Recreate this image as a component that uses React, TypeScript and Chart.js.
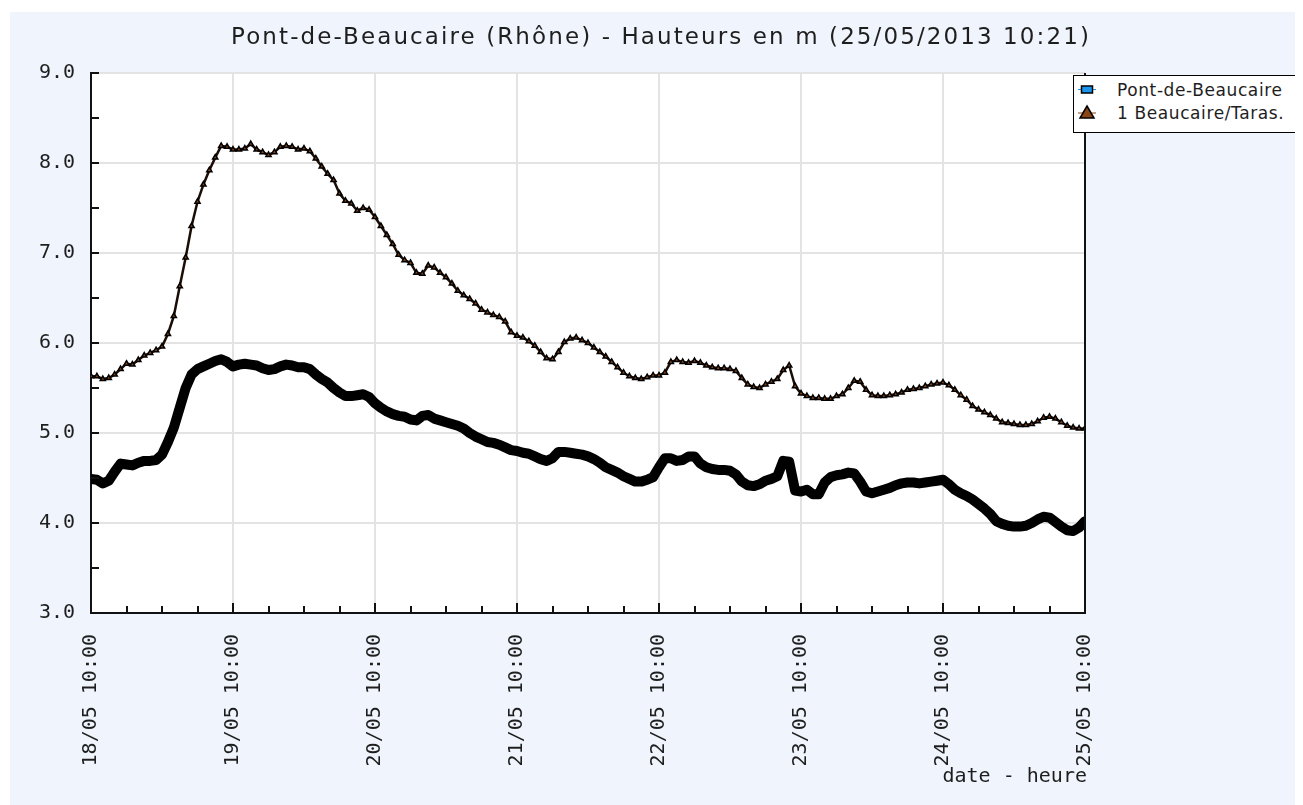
import React, { useEffect, useRef } from 'react';
import { Chart, registerables } from 'chart.js';

Chart.register(...registerables);

const TITLE = 'Pont-de-Beaucaire (Rhône) - Hauteurs en m (25/05/2013 10:21)';
const X_AXIS_TITLE = 'date - heure';
const SERIES_NAMES = ['Pont-de-Beaucaire', '1 Beaucaire/Taras.'];

// hours since 18/05 10:00
const DAY_LABELS = ['18/05 10:00', '19/05 10:00', '20/05 10:00', '21/05 10:00', '22/05 10:00', '23/05 10:00', '24/05 10:00', '25/05 10:00'];
const HOUR_TICKS = [0, 6, 12, 18, 24, 30, 36, 42, 48, 54, 60, 66, 72, 78, 84, 90, 96, 102, 108, 114, 120, 126, 132, 138, 144, 150, 156, 162, 168];
const Y_TICKS = [3, 3.5, 4, 4.5, 5, 5.5, 6, 6.5, 7, 7.5, 8, 8.5, 9];

// hourly readings, 18/05 10:00 -> 25/05 10:00
const PONT = [
  4.49, 4.48, 4.44, 4.47, 4.57, 4.66, 4.65, 4.64, 4.67, 4.69, 4.69, 4.70,
  4.76, 4.90, 5.06, 5.28, 5.50, 5.65, 5.71, 5.74, 5.77, 5.80, 5.82, 5.79,
  5.74, 5.76, 5.77, 5.76, 5.75, 5.72, 5.70, 5.71, 5.74, 5.76, 5.75, 5.73,
  5.73, 5.71, 5.65, 5.60, 5.56, 5.50, 5.45, 5.41, 5.41, 5.42, 5.43, 5.40,
  5.33, 5.28, 5.24, 5.21, 5.19, 5.18, 5.15, 5.14, 5.19, 5.20, 5.16, 5.14,
  5.12, 5.10, 5.08, 5.05, 5.00, 4.96, 4.93, 4.90, 4.89, 4.87, 4.84, 4.81,
  4.80, 4.78, 4.77, 4.74, 4.71, 4.69, 4.72, 4.79, 4.79, 4.78, 4.77, 4.76,
  4.74, 4.71, 4.67, 4.62, 4.59, 4.56, 4.52, 4.49, 4.46, 4.46, 4.48, 4.51,
  4.62, 4.72, 4.72, 4.69, 4.70, 4.74, 4.74, 4.66, 4.62, 4.60, 4.59, 4.59,
  4.58, 4.54, 4.46, 4.42, 4.41, 4.43, 4.47, 4.49, 4.52, 4.69, 4.68, 4.36,
  4.35, 4.37, 4.32, 4.32, 4.45, 4.51, 4.53, 4.54, 4.56, 4.55, 4.46, 4.35,
  4.33, 4.35, 4.37, 4.39, 4.42, 4.44, 4.45, 4.45, 4.44, 4.45, 4.46, 4.47,
  4.48, 4.43, 4.37, 4.33, 4.30, 4.26, 4.21, 4.16, 4.10, 4.02, 3.99, 3.97,
  3.96, 3.96, 3.97, 4.00, 4.04, 4.07, 4.06, 4.01, 3.96, 3.92, 3.91, 3.95,
  4.02,
];

const TARAS = [
  5.63, 5.63, 5.60, 5.61, 5.65, 5.71, 5.77, 5.76, 5.81, 5.86, 5.89, 5.92,
  5.96, 6.10, 6.30, 6.63, 6.95, 7.30, 7.57, 7.76, 7.92, 8.06, 8.19, 8.18,
  8.15, 8.15, 8.16, 8.21, 8.15, 8.12, 8.09, 8.12, 8.18, 8.19, 8.18, 8.15,
  8.16, 8.13, 8.05, 7.96, 7.88, 7.81, 7.66, 7.58, 7.55, 7.47, 7.50, 7.48,
  7.40, 7.30, 7.20, 7.10, 6.98, 6.92, 6.89, 6.78, 6.77, 6.86, 6.84, 6.78,
  6.73, 6.66, 6.58, 6.53, 6.49, 6.44, 6.37, 6.34, 6.31, 6.29, 6.24, 6.12,
  6.08, 6.06, 6.02, 5.97, 5.90, 5.83, 5.82, 5.90, 6.01, 6.05, 6.06, 6.03,
  6.00, 5.95, 5.90, 5.85, 5.79, 5.73, 5.67, 5.63, 5.61, 5.60, 5.62, 5.64,
  5.64, 5.67, 5.79, 5.81, 5.79, 5.78, 5.80, 5.78, 5.75, 5.73, 5.72, 5.72,
  5.71, 5.69, 5.61, 5.54, 5.51, 5.50, 5.54, 5.57, 5.60, 5.70, 5.75, 5.52,
  5.44, 5.41, 5.39, 5.39, 5.38, 5.38, 5.41, 5.43, 5.50, 5.58, 5.57, 5.48,
  5.42, 5.41, 5.41, 5.42, 5.43, 5.45, 5.48, 5.49, 5.50, 5.52, 5.54, 5.55,
  5.56, 5.53, 5.48, 5.42, 5.37, 5.30, 5.26, 5.23, 5.20, 5.16, 5.12, 5.11,
  5.10, 5.09, 5.09, 5.10, 5.13, 5.17, 5.18, 5.16, 5.12, 5.08, 5.06, 5.05,
  5.05,
];

const BLUE = '#1c94ec';
const BROWN = '#8b4513';
const PANEL_BG = '#f0f5fd';
const TEXT = '#1e1e1e';
const MONO = "'DejaVu Sans Mono', monospace";
const SANS = "'DejaVu Sans', Verdana, sans-serif";

const framePlugin = {
  id: 'frame',
  beforeDraw(chart: any) {
    const { ctx, chartArea: a } = chart;
    ctx.save();
    ctx.fillStyle = '#ffffff';
    ctx.fillRect(a.left, a.top, a.right - a.left, a.bottom - a.top);
    ctx.restore();
  },
  afterDraw(chart: any) {
    const { ctx, chartArea: a, scales } = chart;
    ctx.save();
    ctx.strokeStyle = '#111';
    ctx.lineWidth = 2;
    ctx.beginPath();
    ctx.moveTo(a.right, a.top);
    ctx.lineTo(a.right, a.bottom + 1);
    ctx.stroke();
    Y_TICKS.forEach((v) => {
      const y = Math.round(scales.y.getPixelForValue(v));
      ctx.beginPath();
      ctx.moveTo(a.left, y);
      ctx.lineTo(a.left + 8, y);
      ctx.stroke();
    });
    HOUR_TICKS.forEach((h) => {
      const x = Math.round(scales.x.getPixelForValue(h));
      const len = h % 24 === 0 ? 10 : 7;
      ctx.beginPath();
      ctx.moveTo(x, a.bottom);
      ctx.lineTo(x, a.bottom - len);
      ctx.stroke();
    });
    ctx.restore();
  },
};

export default function App() {
  const canvasRef = useRef<HTMLCanvasElement | null>(null);

  useEffect(() => {
    document.body.style.overflow = 'hidden';
    const canvas = canvasRef.current;
    if (!canvas) return;
    const pontData = PONT.map((v, i) => ({ x: i, y: v }));
    const tarasData = TARAS.map((v, i) => ({ x: i, y: v }));
    const chart = new Chart(canvas, {
      type: 'line',
      data: {
        datasets: [
          {
            label: SERIES_NAMES[0],
            data: pontData,
            borderColor: '#000',
            borderWidth: 10,
            borderJoinStyle: 'round',
            borderCapStyle: 'round',
            pointRadius: 0,
            backgroundColor: BLUE,
            tension: 0,
          },
          {
            label: SERIES_NAMES[1],
            data: tarasData,
            borderColor: '#1a0d05',
            borderWidth: 2.5,
            borderJoinStyle: 'round',
            pointStyle: 'triangle',
            pointRadius: 3,
            pointBackgroundColor: BROWN,
            pointBorderColor: '#000',
            pointBorderWidth: 1.5,
            tension: 0,
          },
        ],
      },
      options: {
        animation: false,
        responsive: false,
        events: [],
        layout: { padding: { left: 0, top: 61, right: 218, bottom: 0 } },
        plugins: {
          legend: { display: false },
          title: { display: false },
          tooltip: { enabled: false },
        },
        scales: {
          x: {
            type: 'linear',
            min: 0,
            max: 168,
            afterBuildTicks: (scale: any) => {
              scale.ticks = HOUR_TICKS.map((v) => ({ value: v }));
            },
            afterFit: (scale: any) => {
              scale.height = 192;
            },
            ticks: {
              autoSkip: false,
              minRotation: 90,
              maxRotation: 90,
              padding: 21,
              color: TEXT,
              font: { family: MONO, size: 20 },
              callback: (v: any) => (Number(v) % 24 === 0 ? DAY_LABELS[Number(v) / 24] : ''),
            },
            grid: {
              drawTicks: false,
              lineWidth: 2,
              color: (c: any) => (c.tick && c.tick.value % 24 === 0 ? '#e3e3e3' : 'rgba(0,0,0,0)'),
            },
            border: { display: true, color: '#111', width: 2 },
          },
          y: {
            type: 'linear',
            min: 3,
            max: 9,
            afterBuildTicks: (scale: any) => {
              scale.ticks = Y_TICKS.map((v) => ({ value: v }));
            },
            afterFit: (scale: any) => {
              scale.width = 81;
            },
            ticks: {
              autoSkip: false,
              padding: 16,
              color: TEXT,
              font: { family: MONO, size: 20 },
              callback: (v: any) => (Number.isInteger(Number(v)) ? Number(v).toFixed(1) : ''),
            },
            grid: {
              drawTicks: false,
              lineWidth: 2,
              color: (c: any) => (c.tick && Number.isInteger(c.tick.value) ? '#e3e3e3' : 'rgba(0,0,0,0)'),
            },
            border: { display: true, color: '#111', width: 2 },
          },
        },
      },
      plugins: [framePlugin],
    } as any);
    return () => chart.destroy();
  }, []);

  return (
    <div style={{ position: 'relative', marginLeft: 2, marginTop: 4, width: 1293, height: 793, background: PANEL_BG, overflow: 'hidden' }}>
      <canvas ref={canvasRef} width={1293} height={793} style={{ position: 'absolute', left: 0, top: 0 }} />
      <div
        style={{
          position: 'absolute',
          left: 651,
          top: 13,
          transform: 'translateX(-50%)',
          whiteSpace: 'nowrap',
          fontFamily: SANS,
          fontSize: 23,
          lineHeight: '23px',
          letterSpacing: 2.1,
          color: TEXT,
        }}
      >
        {TITLE}
      </div>
      <div
        style={{
          position: 'absolute',
          right: 216,
          top: 753,
          whiteSpace: 'pre',
          fontFamily: MONO,
          fontSize: 20,
          lineHeight: '20px',
          color: TEXT,
        }}
      >
        {X_AXIS_TITLE}
      </div>
      <div
        style={{
          position: 'absolute',
          left: 1063,
          top: 63,
          width: 228,
          height: 58,
          background: '#ffffff',
          border: '1px solid #000',
          boxSizing: 'border-box',
        }}
      >
        <svg width={30} height={58} style={{ position: 'absolute', left: 0, top: 0 }}>
          <line x1={4} y1={13.5} x2={22} y2={13.5} stroke={BLUE} strokeWidth={1} />
          <rect x={7.5} y={10} width={11} height={7} fill={BLUE} stroke="#000" strokeWidth={1.5} />
          <line x1={4} y1={37} x2={22} y2={37} stroke={BROWN} strokeWidth={1} />
          <polygon points="13,30 20,42 6,42" fill={BROWN} stroke="#000" strokeWidth={1.5} />
        </svg>
        <div style={{ position: 'absolute', left: 43, top: 3, fontFamily: SANS, fontSize: 17, lineHeight: '22px', letterSpacing: 0.6, color: TEXT, whiteSpace: 'nowrap' }}>
          {SERIES_NAMES[0]}
        </div>
        <div style={{ position: 'absolute', left: 43, top: 26, fontFamily: SANS, fontSize: 17, lineHeight: '22px', letterSpacing: 0.6, color: TEXT, whiteSpace: 'nowrap' }}>
          {SERIES_NAMES[1]}
        </div>
      </div>
    </div>
  );
}
